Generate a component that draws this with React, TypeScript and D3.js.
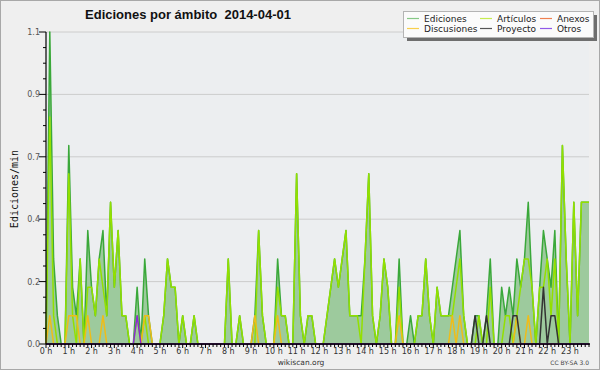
import React from "react";
import * as d3 from "d3";

// 10-minute bins over the day (144 points), values in edits/min
const totalEdits = [
  0, 1.1, 0.3, 0.1, 0, 0, 0.7, 0.2, 0.1, 0.3, 0, 0.4,
  0.2, 0.1, 0.3, 0.4, 0.1, 0.5, 0.2, 0.4, 0.1, 0.1, 0, 0,
  0.2, 0, 0.3, 0.1, 0, 0, 0, 0.1, 0.3, 0.2, 0.2, 0,
  0.1, 0, 0, 0.1, 0, 0, 0, 0, 0, 0, 0, 0,
  0.3, 0, 0, 0.1, 0, 0, 0, 0.1, 0.4, 0.1, 0, 0,
  0, 0.3, 0.1, 0.1, 0, 0, 0.6, 0.1, 0, 0.1, 0.1, 0,
  0, 0, 0.1, 0.2, 0.3, 0.2, 0.3, 0.4, 0.1, 0.1, 0.1, 0.1,
  0.3, 0.6, 0.1, 0, 0.1, 0.3, 0.2, 0, 0, 0.3, 0, 0,
  0.1, 0, 0.1, 0.1, 0.3, 0.1, 0, 0.2, 0.1, 0.1, 0.1, 0.2,
  0.3, 0.4, 0.1, 0, 0, 0.1, 0.1, 0, 0.1, 0.3, 0, 0,
  0.2, 0.1, 0.2, 0.1, 0.3, 0.2, 0.3, 0.5, 0.2, 0, 0.2, 0.4,
  0.3, 0.2, 0.4, 0, 0.7, 0.3, 0, 0.5, 0.1, 0.5, 0.5, 0.5,
];

const articulos = [
  0, 0.8, 0.1, 0, 0, 0, 0.6, 0.1, 0, 0.3, 0, 0.2,
  0.2, 0.1, 0.3, 0.2, 0.1, 0.5, 0.2, 0.4, 0.1, 0.1, 0, 0,
  0.1, 0, 0.1, 0, 0, 0, 0, 0.1, 0.3, 0.2, 0.2, 0,
  0.1, 0, 0, 0.1, 0, 0, 0, 0, 0, 0, 0, 0,
  0.3, 0, 0, 0.1, 0, 0, 0, 0, 0.4, 0.1, 0, 0,
  0, 0.2, 0.1, 0.1, 0, 0, 0.6, 0.1, 0, 0.1, 0.1, 0,
  0, 0, 0.1, 0.2, 0.3, 0.2, 0.3, 0.4, 0.1, 0.1, 0.1, 0,
  0.3, 0.6, 0.1, 0, 0.1, 0.3, 0.2, 0, 0, 0.2, 0, 0,
  0, 0, 0.1, 0.1, 0.3, 0.1, 0, 0.2, 0.1, 0.1, 0.1, 0.1,
  0.2, 0.3, 0.1, 0, 0, 0, 0.1, 0, 0, 0.2, 0, 0,
  0, 0.1, 0.1, 0, 0.1, 0.2, 0.3, 0.3, 0.2, 0, 0.2, 0.2,
  0.3, 0.1, 0.3, 0, 0.7, 0.3, 0, 0.5, 0.1, 0.5, 0.5, 0.5,
];

const anexos = [
  0, 0, 0, 0, 0, 0, 0, 0, 0, 0, 0, 0,
  0, 0, 0, 0, 0, 0, 0, 0, 0, 0, 0, 0,
  0, 0, 0, 0, 0, 0, 0, 0, 0, 0, 0, 0,
  0, 0, 0, 0, 0, 0, 0, 0, 0, 0, 0, 0,
  0, 0, 0, 0, 0, 0, 0, 0, 0, 0, 0, 0,
  0, 0, 0, 0, 0, 0, 0, 0, 0, 0, 0, 0,
  0, 0, 0, 0, 0, 0, 0, 0, 0, 0, 0, 0,
  0, 0, 0, 0, 0, 0, 0, 0, 0, 0, 0, 0,
  0, 0, 0, 0, 0, 0, 0, 0, 0, 0, 0, 0,
  0, 0, 0, 0, 0, 0, 0, 0, 0, 0, 0, 0,
  0, 0, 0, 0, 0, 0, 0, 0, 0, 0, 0, 0,
  0, 0, 0, 0, 0, 0, 0, 0, 0, 0, 0, 0,
];

const discusiones = [
  0, 0.1, 0, 0, 0, 0, 0.1, 0.1, 0.1, 0, 0, 0.1,
  0, 0, 0, 0.1, 0, 0, 0, 0, 0, 0, 0, 0,
  0, 0, 0.1, 0.1, 0, 0, 0, 0, 0, 0, 0, 0,
  0, 0, 0, 0, 0, 0, 0, 0, 0, 0, 0, 0,
  0, 0, 0, 0, 0, 0, 0, 0.1, 0, 0, 0, 0,
  0, 0.1, 0, 0, 0, 0, 0, 0, 0, 0, 0, 0,
  0, 0, 0, 0, 0, 0, 0, 0, 0, 0, 0, 0,
  0, 0, 0, 0, 0, 0, 0, 0, 0, 0.1, 0, 0,
  0, 0, 0, 0, 0, 0, 0, 0, 0, 0, 0, 0.1,
  0, 0.1, 0, 0, 0, 0, 0, 0, 0, 0, 0, 0,
  0, 0, 0, 0, 0.1, 0, 0, 0.1, 0, 0, 0, 0,
  0, 0, 0, 0, 0, 0, 0, 0, 0, 0, 0, 0,
];

const proyecto = [
  0, 0, 0, 0, 0, 0, 0, 0, 0, 0, 0, 0,
  0, 0, 0, 0, 0, 0, 0, 0, 0, 0, 0, 0,
  0, 0, 0, 0, 0, 0, 0, 0, 0, 0, 0, 0,
  0, 0, 0, 0, 0, 0, 0, 0, 0, 0, 0, 0,
  0, 0, 0, 0, 0, 0, 0, 0, 0, 0, 0, 0,
  0, 0, 0, 0, 0, 0, 0, 0, 0, 0, 0, 0,
  0, 0, 0, 0, 0, 0, 0, 0, 0, 0, 0, 0,
  0, 0, 0, 0, 0, 0, 0, 0, 0, 0, 0, 0,
  0, 0, 0, 0, 0, 0, 0, 0, 0, 0, 0, 0,
  0, 0, 0, 0, 0, 0.1, 0, 0, 0.1, 0, 0, 0,
  0, 0, 0, 0.1, 0.1, 0, 0, 0, 0, 0, 0, 0.2,
  0, 0.1, 0.1, 0, 0, 0, 0, 0, 0, 0, 0, 0,
];

const otros = [
  0, 0, 0, 0, 0, 0, 0, 0, 0, 0, 0, 0,
  0, 0, 0, 0, 0, 0, 0, 0, 0, 0, 0, 0,
  0.1, 0, 0, 0, 0, 0, 0, 0, 0, 0, 0, 0,
  0, 0, 0, 0, 0, 0, 0, 0, 0, 0, 0, 0,
  0, 0, 0, 0, 0, 0, 0, 0, 0, 0, 0, 0,
  0, 0, 0, 0, 0, 0, 0, 0, 0, 0, 0, 0,
  0, 0, 0, 0, 0, 0, 0, 0, 0, 0, 0, 0,
  0, 0, 0, 0, 0, 0, 0, 0, 0, 0, 0, 0,
  0, 0, 0, 0, 0, 0, 0, 0, 0, 0, 0, 0,
  0, 0, 0, 0, 0, 0, 0, 0, 0, 0, 0, 0,
  0, 0, 0, 0, 0, 0, 0, 0, 0, 0, 0, 0,
  0, 0, 0, 0, 0, 0, 0, 0, 0, 0, 0, 0,
];

const hourLabels = d3.range(24).map((h) => `${h} h`);
const yTickValues = [0, 0.22, 0.44, 0.66, 0.88, 1.1];

const seriesNames = ["Ediciones", "Artículos", "Anexos", "Discusiones", "Proyecto", "Otros"];
const lineColors = ["#3aa83a", "#93e000", "#f06030", "#f0bc18", "#333333", "#8a2ad8"];
const legendColors = ["#86c886", "#c6ec50", "#f08050", "#f8cf4c", "#555555", "#9058e8"];
const seriesData = [totalEdits, articulos, anexos, discusiones, proyecto, otros];

const W = 600;
const H = 370;
const X0 = 46;
const X1 = 589;
const Y0 = 344;
const Y1 = 32;

export default function App() {
  const n = totalEdits.length;
  const x = d3.scaleLinear().domain([0, n - 1]).range([X0, X1]);
  const y = d3.scaleLinear().domain([0, 1.1]).range([Y0, Y1]);
  const fmt = d3.format(".1f");

  const area = d3
    .area<number>()
    .x((_, i) => x(i))
    .y0(y(0))
    .y1((d) => y(d));
  const line = d3
    .line<number>()
    .x((_, i) => x(i))
    .y((d) => y(d));

  const minorY = d3.range(0, 21).map((i) => (1.1 * i) / 20);

  // legend layout: columns of (Ediciones, Discusiones), (Artículos, Proyecto), (Anexos, Otros)
  const legendOrder = [
    { idx: 0, col: 0, row: 0 },
    { idx: 1, col: 1, row: 0 },
    { idx: 2, col: 2, row: 0 },
    { idx: 3, col: 0, row: 1 },
    { idx: 4, col: 1, row: 1 },
    { idx: 5, col: 2, row: 1 },
  ];
  const colX = [407, 480, 540];
  const rowY = [19, 29];

  const font = "'DejaVu Sans', sans-serif";

  return (
    <svg
      width={W}
      height={H}
      style={{ position: "absolute", left: 0, top: 0 }}
      xmlns="http://www.w3.org/2000/svg"
    >
      <rect x={0} y={0} width={W} height={H} fill="#efefef" />
      <rect x={0.5} y={0.5} width={W - 1} height={H - 1} fill="none" stroke="#a8a8a8" />
      <rect x={X0} y={Y1} width={X1 - X0} height={Y0 - Y1} fill="#eceef0" />

      {/* grid */}
      {yTickValues.slice(1).map((v) => (
        <line key={v} x1={X0} x2={X1} y1={y(v)} y2={y(v)} stroke="#cccccc" strokeWidth={1} />
      ))}

      {/* area + series */}
      <path d={area(totalEdits) || ""} fill="#9dca9d" />
      {seriesData.map((s, si) => (
        <path
          key={si}
          d={line(s) || ""}
          fill="none"
          stroke={lineColors[si]}
          strokeWidth={1.5}
          strokeLinejoin="round"
        />
      ))}

      {/* axes */}
      <line x1={X0} x2={X0} y1={Y1} y2={Y0} stroke="#000" strokeWidth={1.2} />
      <line x1={X0} x2={X1 + 1} y1={Y0} y2={Y0} stroke="#000" strokeWidth={1.5} />
      {minorY.map((v, i) => (
        <line
          key={i}
          x1={i % 4 === 0 ? X0 - 7 : X0 - 3}
          x2={X0}
          y1={y(v)}
          y2={y(v)}
          stroke="#000"
          strokeWidth={1}
        />
      ))}
      {yTickValues.map((v) => (
        <text
          key={v}
          x={40}
          y={y(v) + 3}
          textAnchor="end"
          fontSize={8}
          fontFamily={font}
          fill="#555"
        >
          {fmt(v)}
        </text>
      ))}
      {d3.range(n).map((i) => (
        <line
          key={i}
          x1={x(i)}
          x2={x(i)}
          y1={Y0}
          y2={i % 6 === 0 ? Y0 + 4 : Y0 + 3}
          stroke="#000"
          strokeWidth={1}
        />
      ))}
      {hourLabels.map((lab, h) => (
        <text
          key={lab}
          x={x(h * 6)}
          y={354}
          textAnchor="middle"
          fontSize={8}
          fontFamily={font}
          fill="#333"
        >
          {lab}
        </text>
      ))}

      {/* titles */}
      <text
        x={188}
        y={19}
        textAnchor="middle"
        fontSize={13}
        fontWeight="bold"
        fontFamily="'Liberation Sans', Arial, sans-serif"
        fill="#111"
      >
        {"Ediciones por ámbito\u00a0\u00a02014-04-01"}
      </text>
      <text
        transform={`translate(18,189) rotate(-90)`}
        textAnchor="middle"
        fontSize={10}
        fontFamily="'DejaVu Sans Mono', monospace"
        fill="#111"
      >
        Ediciones/min
      </text>
      <text x={301} y={365} textAnchor="middle" fontSize={7.5} fontFamily={font} fill="#333">
        wikiscan.org
      </text>
      <text x={589} y={365} textAnchor="end" fontSize={6} fontFamily={font} fill="#444">
        CC BY-SA 3.0
      </text>

      {/* legend */}
      <rect x={407} y={15} width={190} height={26} fill="#6e6e6e" />
      <rect x={403.5} y={11.5} width={190} height={26} fill="#fbfbfb" stroke="#b4b4b4" />
      {legendOrder.map(({ idx, col, row }) => (
        <g key={idx}>
          <line
            x1={colX[col]}
            x2={colX[col] + 12}
            y1={rowY[row] - 0.5}
            y2={rowY[row] - 0.5}
            stroke={legendColors[idx]}
            strokeWidth={1.2}
          />
          <text
            x={colX[col] + 17}
            y={rowY[row] + 3}
            fontSize={9}
            fontFamily={font}
            fill="#222"
          >
            {seriesNames[idx]}
          </text>
        </g>
      ))}
    </svg>
  );
}
